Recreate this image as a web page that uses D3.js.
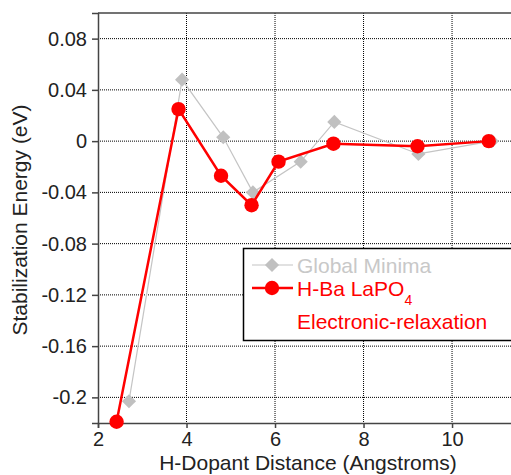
<!DOCTYPE html>
<html>
<head>
<meta charset="utf-8">
<script src="https://cdn.jsdelivr.net/npm/d3@7"></script>
<style>
  body { margin: 0; background: white; }
  svg { display: block; }
</style>
</head>
<body>
<div id="chart"></div>
<script>
// values
let redX = [2.42, 3.82, 4.78, 5.47, 6.08, 7.32, 9.22, 10.83];
let redY = [-0.219, 0.025, -0.027, -0.050, -0.016, -0.002, -0.004, 0.000];
let grayX = [2.70, 3.90, 4.83, 5.50, 6.58, 7.34, 9.24, 10.90];
let grayY = [-0.203, 0.048, 0.003, -0.040, -0.016, 0.015, -0.010, 0.000];
let xTicks = [2, 4, 6, 8, 10];
let yTicks = [0.08, 0.04, 0, -0.04, -0.08, -0.12, -0.16, -0.2];

let width = 511, height = 475;
let mLeft = 98, mTop = 13, mRight = 514, mBottom = 423;

let svg = d3.select("#chart").append("svg")
  .attr("width", width)
  .attr("height", height)
  .attr("font-family", "Liberation Sans, Arial, sans-serif");

let x = d3.scaleLinear().domain([2, 11.4]).range([mLeft, mRight]);
let y = d3.scaleLinear().domain([-0.22, 0.1]).range([mBottom, mTop]);

// dotted grid
svg.append("g")
  .selectAll("line").data(xTicks.slice(1)).enter()
  .append("line")
    .attr("x1", d => x(d)).attr("x2", d => x(d))
    .attr("y1", mTop).attr("y2", mBottom)
    .attr("stroke", "#000").attr("stroke-width", 1)
    .attr("stroke-dasharray", "1,1");

svg.append("g")
  .selectAll("line").data(yTicks).enter()
  .append("line")
    .attr("x1", mLeft).attr("x2", mRight)
    .attr("y1", d => y(d)).attr("y2", d => y(d))
    .attr("stroke", "#000").attr("stroke-width", 1)
    .attr("stroke-dasharray", "1,1");

// axes
let fmtY = d => d === 0 ? "0" : String(+d.toFixed(2));

svg.append("g")
  .attr("transform", "translate(0," + mBottom + ")")
  .call(d3.axisBottom(x).tickValues(xTicks).tickSize(5).tickPadding(4).tickFormat(d3.format("d")))
  .call(g => g.selectAll("text").attr("font-size", 20).attr("fill", "#222"))
  .call(g => g.selectAll("line").attr("stroke", "#444").attr("stroke-width", 1.5))
  .call(g => g.select(".domain").attr("stroke", "#444").attr("stroke-width", 1.5));

svg.append("g")
  .attr("transform", "translate(" + mLeft + ",0)")
  .call(d3.axisLeft(y).tickValues(yTicks).tickSize(6).tickPadding(5).tickFormat(fmtY))
  .call(g => g.selectAll("text").attr("font-size", 20).attr("fill", "#222"))
  .call(g => g.selectAll("line").attr("stroke", "#444").attr("stroke-width", 1.5))
  .call(g => g.select(".domain").attr("stroke", "#444").attr("stroke-width", 1.5));

// top frame
svg.append("line")
  .attr("x1", mLeft).attr("x2", mRight)
  .attr("y1", mTop).attr("y2", mTop)
  .attr("stroke", "#444").attr("stroke-width", 1.5);

// axis titles
svg.append("text")
  .attr("x", 308)
  .attr("y", 470)
  .attr("text-anchor", "middle")
  .attr("font-size", 21)
  .attr("fill", "#222")
  .text("H-Dopant Distance (Angstroms)");

svg.append("text")
  .attr("transform", "translate(27,220) rotate(-90)")
  .attr("text-anchor", "middle")
  .attr("font-size", 21)
  .attr("fill", "#222")
  .text("Stabilization Energy (eV)");

// series
let grayData = grayX.map((d, i) => [d, grayY[i]]);
let redData = redX.map((d, i) => [d, redY[i]]);
let line = d3.line().x(d => x(d[0])).y(d => y(d[1]));

svg.append("path")
  .attr("d", line(grayData))
  .attr("fill", "none")
  .attr("stroke", "#c4c4c4")
  .attr("stroke-width", 1.2);

let diamond = d3.symbol().type(d3.symbolDiamond2).size(128);

svg.append("g")
  .selectAll("path").data(grayData).enter()
  .append("path")
    .attr("d", diamond)
    .attr("transform", d => "translate(" + x(d[0]) + "," + y(d[1]) + ")")
    .attr("fill", "#c0c0c0");

svg.append("path")
  .attr("d", line(redData))
  .attr("fill", "none")
  .attr("stroke", "#ff0000")
  .attr("stroke-width", 2.5);

svg.append("g")
  .selectAll("circle").data(redData).enter()
  .append("circle")
    .attr("cx", d => x(d[0]))
    .attr("cy", d => y(d[1]))
    .attr("r", 7.2)
    .attr("fill", "#ff0000");

// legend
let legend = svg.append("g");

legend.append("rect")
  .attr("x", 243.5).attr("y", 248.5)
  .attr("width", 300).attr("height", 92)
  .attr("fill", "white")
  .attr("stroke", "#000").attr("stroke-width", 1.5);

legend.append("line")
  .attr("x1", 252).attr("x2", 293).attr("y1", 265).attr("y2", 265)
  .attr("stroke", "#c4c4c4").attr("stroke-width", 1.2);
legend.append("path")
  .attr("d", diamond)
  .attr("transform", "translate(272,265)")
  .attr("fill", "#c0c0c0");
legend.append("text")
  .attr("x", 297).attr("y", 272.5)
  .attr("font-size", 21)
  .attr("fill", "#c8c8c8")
  .text("Global Minima");

legend.append("line")
  .attr("x1", 252).attr("x2", 293).attr("y1", 288).attr("y2", 288)
  .attr("stroke", "#ff0000").attr("stroke-width", 2.5);
legend.append("circle")
  .attr("cx", 272).attr("cy", 288).attr("r", 7.2)
  .attr("fill", "#ff0000");
let t = legend.append("text")
  .attr("x", 297).attr("y", 295.5)
  .attr("font-size", 21)
  .attr("fill", "#ff0000");
t.append("tspan").text("H-Ba LaPO");
t.append("tspan").attr("dy", 9.5).attr("font-size", 14).text("4");

legend.append("text")
  .attr("x", 297).attr("y", 329)
  .attr("font-size", 21)
  .attr("fill", "#ff0000")
  .text("Electronic-relaxation");
</script>
</body>
</html>
